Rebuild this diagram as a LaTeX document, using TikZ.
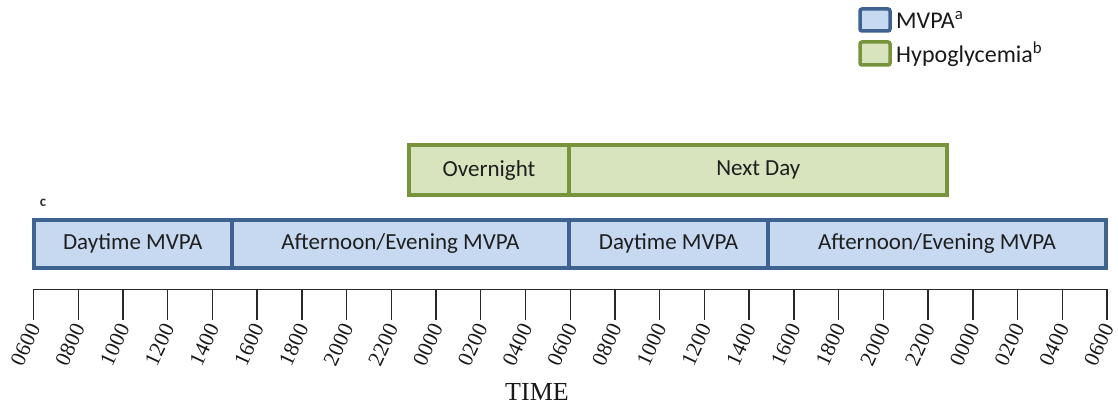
\documentclass[tikz,border=0pt]{standalone}
\usepackage{fontspec}
\setmainfont{Carlito}
\newfontfamily\timefont{Liberation Serif}

\definecolor{mvpaline}{RGB}{63,99,145}
\definecolor{mvpafill}{RGB}{198,217,241}
\definecolor{hypoline}{RGB}{119,147,60}
\definecolor{hypofill}{RGB}{215,228,189}
\definecolor{axisgray}{RGB}{40,40,40}

\begin{document}
\begin{tikzpicture}[x=1pt,y=-1pt,
  seg/.style={rectangle, line width=4pt, inner sep=0pt, minimum height=48.5pt,
              font=\fontsize{23}{27}\selectfont, text=black!88},
  mvpa/.style={seg, draw=mvpaline, fill=mvpafill},
  hypo/.style={seg, draw=hypoline, fill=hypofill, minimum height=49.5pt},
  keybox/.style={rectangle, line width=3.5pt, rounded corners=2pt, inner sep=0pt,
                 minimum width=30pt},
  keytext/.style={anchor=west, inner sep=0pt, font=\fontsize{24}{28}\selectfont, text=black!90},
  ticklbl/.style={anchor=east, inner sep=0pt, rotate=65,
                  font=\timefont\fontsize{21.5}{24}\selectfont, text=black!90},
  axisline/.style={draw=axisgray, line width=1.4pt}
]
\useasboundingbox (0,0) rectangle (1118,409);

% legend
\node[keybox, draw=mvpaline, fill=mvpafill, minimum height=22pt] (kmvpa) at (875,20) {};
\node[keytext] (tmvpa) at (896,20) {MVPA\textsuperscript{a}};
\node[keybox, draw=hypoline, fill=hypofill, minimum height=23pt] (khypo) at (875,53.5) {};
\node[keytext] (thypo) at (896,54) {Hypoglycemia\textsuperscript{b}};

% hypoglycemia window
\node[hypo, minimum width=160.6pt] (night) at (489,170) {Overnight};
\node[hypo, minimum width=378pt] (nextday) at (758.3,170) {Next Day};

% MVPA periods
\node[mvpa, minimum width=197.9pt] (day1) at (132.75,243.75) {Daytime MVPA};
\node[mvpa, minimum width=337.3pt] (eve1) at (400.35,243.75) {Afternoon/Evening MVPA};
\node[mvpa, minimum width=199pt] (day2) at (668.5,243.75) {Daytime MVPA};
\node[mvpa, minimum width=338pt] (eve2) at (937,243.75) {Afternoon/Evening MVPA};

\node[inner sep=0pt, font=\bfseries\fontsize{15}{17}\selectfont, text=black!80] (note) at (43,202.5) {c};

% time axis
\coordinate (a0) at (33.5,289.3);
\coordinate (a1) at (1107,289.3);
\draw[axisline] (a0) -- (a1);
\foreach \lab [count=\i from 0] in {0600,0800,1000,1200,1400,1600,1800,2000,2200,0000,0200,0400,
                                    0600,0800,1000,1200,1400,1600,1800,2000,2200,0000,0200,0400,0600} {
  \pgfmathsetmacro{\tx}{33.5+\i*44.729}
  \coordinate (t\i) at (\tx,289.3);
  \draw[axisline] (t\i) -- ++(0,31);
  \node[ticklbl] (l\i) at (\tx+1,325) {\lab};
}

\node[inner sep=0pt, font=\timefont\fontsize{26}{30}\selectfont, text=black!90] (axistitle) at (537,392) {TIME};
\end{tikzpicture}
\end{document}
